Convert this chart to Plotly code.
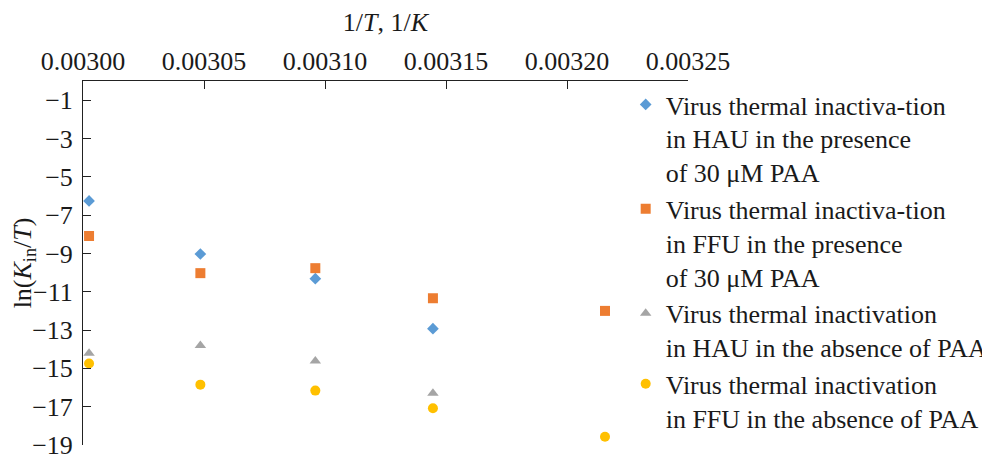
import plotly.graph_objects as go

# 1/T values (1/K)
inv_T = [0.0030025, 0.0030485, 0.0030960, 0.0031446, 0.0032157]

# ln(Kin/T) series
hau_paa = [-6.26, -9.03, -10.32, -12.93]
ffu_paa = [-8.09, -10.03, -9.77, -11.34, -12.00]
hau_no_paa = [-14.21, -13.81, -14.61, -16.30]
ffu_no_paa = [-14.75, -15.85, -16.16, -17.08, -18.57]

names = [
    "Virus thermal inactiva-tion<br>in HAU in the presence<br>of 30 μM PAA",
    "Virus thermal inactiva-tion<br>in FFU in the presence<br>of 30 μM PAA",
    "Virus thermal inactivation<br>in HAU in the absence of PAA",
    "Virus thermal inactivation<br>in FFU in the absence of PAA",
]

x_ticks = [0.00300, 0.00305, 0.00310, 0.00315, 0.00320, 0.00325]
y_ticks = [-1, -3, -5, -7, -9, -11, -13, -15, -17, -19]

FONT = "Liberation Serif, Times New Roman, serif"
TXT = "#1a1a1a"

fig = go.Figure()
series = [
    (hau_paa, "diamond", "#5B9BD5", 9),
    (ffu_paa, "square", "#ED7D31", 10),
    (hau_no_paa, "triangle-up", "#A5A5A5", 10),
    (ffu_no_paa, "circle", "#FFC000", 10),
]
for (vals, sym, col, sz), nm in zip(series, names):
    fig.add_trace(go.Scatter(
        x=inv_T[:len(vals)], y=vals, mode="markers", name=nm,
        marker=dict(symbol=sym, color=col, size=sz, line=dict(width=0)),
        cliponaxis=False,
    ))

# page body has an 8px default margin, so the figure is drawn 8px smaller/offset
fig.update_layout(
    width=982, height=446,
    margin=dict(l=75, r=302, t=73, b=9, autoexpand=False),
    paper_bgcolor="white", plot_bgcolor="white",
    font=dict(family=FONT, size=26, color=TXT),
    showlegend=True,
    legend=dict(
        x=0.897, xanchor="left", y=1.0, yanchor="top",
        bgcolor="rgba(0,0,0,0)", valign="top",
        font=dict(family=FONT, size=26, color=TXT),
        itemsizing="trace", tracegroupgap=0,
    ),
    xaxis=dict(
        side="top", range=[0.00300, 0.00325],
        tickmode="array", tickvals=x_ticks,
        ticktext=[f"{v:.5f}" for v in x_ticks],
        ticks="inside", ticklen=8, tickcolor="#222", tickwidth=1,
        showline=True, linecolor="#222", linewidth=1, mirror=False,
        showgrid=False, zeroline=False, ticklabeloverflow="allow",
        title=dict(text="1/<i>T</i>, 1/<i>K</i>", standoff=8,
                   font=dict(family=FONT, size=26, color=TXT)),
        tickfont=dict(family=FONT, size=26, color=TXT),
    ),
    yaxis=dict(
        range=[-19, 0],
        tickmode="array", tickvals=y_ticks,
        ticktext=[f"−{abs(v)}" for v in y_ticks],
        ticks="inside", ticklen=8, tickcolor="#222", tickwidth=1,
        showline=True, linecolor="#222", linewidth=1, mirror=False,
        showgrid=False, zeroline=False, ticklabeloverflow="allow",
        ticklabelstandoff=4,
        title=dict(text="ln(<i>K</i><sub>in</sub>/<i>T</i>)", standoff=2,
                   font=dict(family=FONT, size=26, color=TXT)),
        tickfont=dict(family=FONT, size=26, color=TXT),
    ),
)

fig.write_html("out.html")
